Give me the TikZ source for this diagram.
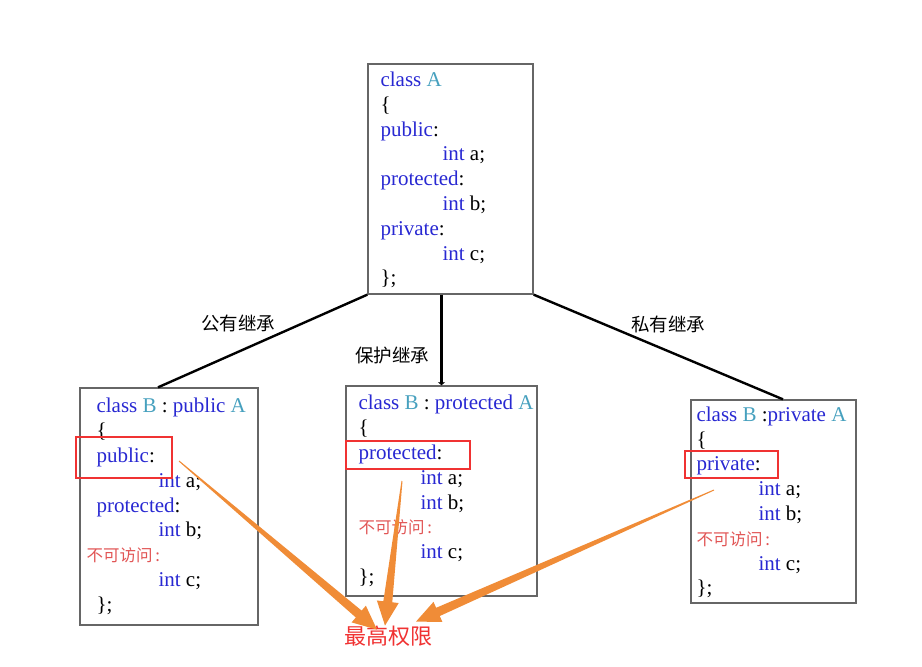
\documentclass[tikz,border=0pt]{standalone}
\usepackage{fontspec}
\setmainfont{Liberation Serif}
\newfontfamily\cjk{Noto Sans CJK SC}
\usetikzlibrary{calc,arrows.meta}
\definecolor{kwblue}{RGB}{40,40,210}
\definecolor{clsteal}{RGB}{70,160,190}
\definecolor{noaccred}{RGB}{225,85,85}
\definecolor{hiorange}{RGB}{240,140,55}
\definecolor{hired}{RGB}{240,50,50}
\newcommand{\kw}[1]{\textcolor{kwblue}{#1}}
\newcommand{\cls}[1]{\textcolor{clsteal}{#1}}
\newcommand{\noacc}{{\cjk\fontsize{16.5}{18}\selectfont\color{noaccred}不可访问\,:}}
\newcommand{\ind}{\hspace*{62pt}}
% tapered arrow: thin at #1, wide with head at #2
\newcommand{\taperarrow}[2]{%
\fill[hiorange] ($(#1)!0.5pt!90:(#2)$) -- ($(#2)!24pt!(#1)!4.5pt!-90:(#1)$) -- ($(#2)!24pt!(#1)!11pt!-90:(#1)$) -- (#2)
  -- ($(#2)!24pt!(#1)!11pt!90:(#1)$) -- ($(#2)!24pt!(#1)!4.5pt!90:(#1)$) -- ($(#1)!0.5pt!-90:(#2)$) -- cycle;}

\begin{document}
\begin{tikzpicture}[x=1pt,y=-1pt,
  classbox/.style={draw=black!60, line width=1.3pt},
  code/.style={align=left, inner sep=0pt, anchor=west, font=\fontsize{21}{24.8}\selectfont},
  hibox/.style={draw=hired, line width=2.8pt, inner sep=0pt},
  edge/.style={line width=2.4pt, black},
  inh/.style={font=\cjk\fontsize{18.5}{20}\selectfont}]
\useasboundingbox (0,0) rectangle (922,667);

% base class
\node[classbox, minimum width=165, minimum height=230] (A) at (450.5,179) {};
\node[code] (Acode) at ($(A.west)+(13,1)$) {\kw{class} \cls{A}\\ \{\\ \kw{public}:\\ \ind\kw{int} a;\\
  \kw{protected}:\\ \ind\kw{int} b;\\ \kw{private}:\\ \ind\kw{int} c;\\ \};};

% derived classes
\node[classbox, minimum width=178, minimum height=237] (B1) at (169,506.5) {};
\node[code] (B1code) at ($(B1.west)+(17,0)$) {\kw{class} \cls{B} : \kw{public} \cls{A}\\ \{\\ \kw{public}:\\ \ind\kw{int} a;\\
  \kw{protected}:\\ \ind\kw{int} b;\\ \hspace*{-10pt}\noacc\\ \ind\kw{int} c;\\ \};};

\node[classbox, minimum width=191, minimum height=210] (B2) at (441.5,491) {};
\node[code] (B2code) at ($(B2.west)+(13,0)$) {\kw{class} \cls{B} : \kw{protected} \cls{A}\\ \{\\ \kw{protected}:\\ \ind\kw{int} a;\\
  \ind\kw{int} b;\\ \noacc\\ \ind\kw{int} c;\\ \};};

\node[classbox, minimum width=165, minimum height=203] (B3) at (773.5,501.5) {};
\node[code] (B3code) at ($(B3.west)+(6,1)$) {\kw{class} \cls{B} :\kw{private} \cls{A}\\ \{\\ \kw{private}:\\ \ind\kw{int} a;\\
  \ind\kw{int} b;\\ \noacc\\ \ind\kw{int} c;\\ \};};

% inheritance lines
\draw[edge] (A.south west) -- ([xshift=-11]B1.north);
\draw[edge, -{Latex[length=3pt,width=8pt]}] (B2.north |- A.south) -- (B2.north);
\draw[edge] (A.south east) -- ([xshift=9.5]B3.north);

\node[inh] (lpub) at (238,323) {公有继承};
\node[inh] (lpro) at (392,355) {保护继承};
\node[inh] (lpri) at (668,324) {私有继承};

% highlighted access
\node[hibox, minimum width=96, minimum height=41] (h1) at (124,457.5) {};
\node[hibox, minimum width=124, minimum height=28] (h2) at (408,455) {};
\node[hibox, minimum width=93, minimum height=27] (h3) at (731.5,464.5) {};

\node[font=\cjk\fontsize{22}{24}\selectfont, text=hired, inner sep=1pt] (top) at (388,636) {最高权限};

\coordinate (s1) at (179,461);
\coordinate (s2) at (402,481);
\coordinate (s3) at (714,490);
\coordinate (e1) at ($(top.north)+(-11,5)$);
\coordinate (e2) at ($(top.north)+(-3,1)$);
\coordinate (e3) at ($(top.north)+(28,-3)$);
\taperarrow{s1}{e1}
\taperarrow{s2}{e2}
\taperarrow{s3}{e3}
\end{tikzpicture}
\end{document}
